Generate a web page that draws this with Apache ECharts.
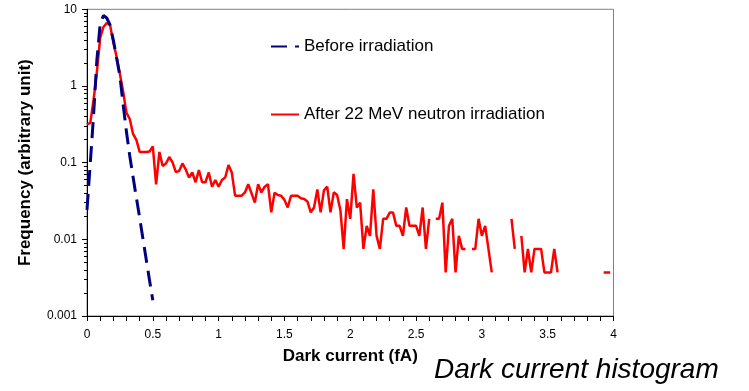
<!DOCTYPE html>
<html>
<head>
<meta charset="utf-8">
<script src="https://cdn.jsdelivr.net/npm/echarts@6/dist/echarts.min.js"></script>
<style>
html,body{margin:0;padding:0;background:#fff;}
#chart{width:749px;height:391px;}
</style>
</head>
<body>
<div id="chart"></div>
<script>
// Histogram bin width (fA); bin i is drawn at i * binWidth
var binWidth = 0.025;

// Before irradiation (bins 0..20)
var beforeValues = [0.0242, 0.099, 0.419, 2.18, 6.43, 8.3, 7.7, 6.24, 3.98, 2.32,
  1.35, 0.565, 0.251, 0.122, 0.0651, 0.035, 0.0191, 0.0102, 0.00547, 0.00293, 0.0016];

// After 22 MeV neutron irradiation (bins 0..159, null = empty bin)
var afterValues = [
  0.315, 0.33, 0.66, 1.52, 4.23, 5.88, 6.62, 6.24, 3.75, 2.39,
  1.43, 0.835, 0.445, 0.371, 0.237, 0.198, 0.138, 0.138, 0.138, 0.14,
  0.1625, 0.052, 0.138, 0.0905, 0.0976, 0.1187, 0.1007, 0.0752, 0.078, 0.0976,
  0.0815, 0.064, 0.0745, 0.0555, 0.08, 0.0555, 0.0555, 0.0745, 0.0486, 0.0595,
  0.0486, 0.0595, 0.064, 0.0933, 0.0745, 0.0371, 0.0371, 0.0371, 0.0409, 0.0523,
  0.0399, 0.0301, 0.0523, 0.0409, 0.0486, 0.0523, 0.0225, 0.0404, 0.0378, 0.0371,
  0.0327, 0.026, 0.037, 0.0371, 0.037, 0.0344, 0.0335, 0.0311, 0.0225, 0.026,
  0.0448, 0.0225, 0.0435, 0.0486, 0.0225, 0.041, 0.0378, 0.0242, 0.0075, 0.0334,
  0.0185, 0.0713, 0.026, 0.0301, 0.0075, 0.015, 0.0111, 0.0448, 0.0111, 0.0075,
  0.0185, 0.0185, 0.0223, 0.0223, 0.015, 0.015, 0.0111, 0.026, 0.015, 0.015,
  0.015, 0.0111, 0.026, 0.0075, 0.0185, null, 0.0185, 0.0185, 0.0301, 0.0037,
  0.015, 0.0185, 0.0037, 0.0111, 0.0075, 0.0075, null, 0.0075, 0.0075, 0.0185,
  0.0111, 0.015, 0.0075, 0.0037, null, null, null, null, null, 0.0185,
  0.0075, null, 0.0111, 0.0037, 0.0075, 0.0037, 0.0075, 0.0075, 0.0075, 0.0037,
  0.0037, 0.0037, 0.0075, 0.0037, null, null, null, null, null, null,
  null, null, null, null, null, null, null, 0.0037, 0.0037, 0.0037
];

var seriesNames = ['Before irradiation', 'After 22 MeV neutron irradiation'];
var yTickLabels = {0.001: '0.001', 0.01: '0.01', 0.1: '0.1', 1: '1', 10: '10'};
var yMinorTicks = [0.002,0.003,0.004,0.005,0.006,0.007,0.008,0.009,
  0.02,0.03,0.04,0.05,0.06,0.07,0.08,0.09,
  0.2,0.3,0.4,0.5,0.6,0.7,0.8,0.9,
  2,3,4,5,6,7,8,9];
var xAxisName = 'Dark current (fA)';
var yAxisName = 'Frequency (arbitrary unit)';
var captionText = 'Dark current histogram';

function toPairs(vals) {
  return vals.map(function (v, i) { return [+(i * binWidth).toFixed(4), v]; });
}

var FONT = "'Liberation Sans', Arial, sans-serif";
var chart = echarts.init(document.getElementById('chart'));
var legendCommon = {
  padding: 0, itemWidth: 28, itemHeight: 14, itemGap: 0,
  itemStyle: {opacity: 0, borderWidth: 0},
  textStyle: {fontFamily: FONT, fontSize: 17, color: '#000'}
};
chart.setOption({
  animation: false,
  backgroundColor: '#fff',
  textStyle: {fontFamily: FONT},
  title: {
    text: captionText,
    left: 434, top: 356,
    padding: 0,
    textStyle: {fontFamily: FONT, fontStyle: 'italic', fontWeight: 'normal', fontSize: 28, color: '#000'}
  },
  legend: [
    Object.assign({data: [seriesNames[0]], left: 270, top: 38}, legendCommon),
    Object.assign({data: [seriesNames[1]], left: 270, top: 106}, legendCommon)
  ],
  grid: {left: 87, right: 135.5, top: 9.3, bottom: 75, show: true, borderColor: '#808080', borderWidth: 1},
  xAxis: {
    type: 'value', min: 0, max: 4, interval: 0.5,
    name: xAxisName, nameLocation: 'middle', nameGap: 32,
    nameTextStyle: {fontFamily: FONT, fontWeight: 'bold', fontSize: 17, color: '#000'},
    axisLine: {show: true, lineStyle: {color: '#000', width: 1}},
    axisTick: {show: true, length: 5, lineStyle: {color: '#000'}},
    minorTick: {show: true, splitNumber: 5, length: 5, lineStyle: {color: '#000'}},
    axisLabel: {fontFamily: FONT, fontSize: 12, color: '#000', margin: 13},
    splitLine: {show: false}
  },
  yAxis: [{
    type: 'log', logBase: 10, min: 0.001, max: 10,
    name: yAxisName, nameLocation: 'middle', nameGap: 53, nameRotate: 90,
    nameTextStyle: {fontFamily: FONT, fontWeight: 'bold', fontSize: 17, color: '#000'},
    axisLine: {show: true, lineStyle: {color: '#000', width: 1}},
    axisTick: {show: true, length: 5, lineStyle: {color: '#000'}},
    axisLabel: {fontFamily: FONT, fontSize: 12, color: '#000', margin: 10,
      formatter: function (v) { var k = Object.keys(yTickLabels).filter(function (t) { return Math.abs(Math.log10(+t) - Math.log10(v)) < 1e-6; }); return k.length ? yTickLabels[k[0]] : ''; }},
    splitLine: {show: false}
  }, {
    type: 'log', logBase: 10, min: 0.001, max: 10, position: 'left',
    axisLine: {show: false},
    axisTick: {show: true, length: 3, customValues: yMinorTicks, lineStyle: {color: '#000'}},
    axisLabel: {show: false},
    splitLine: {show: false}
  }],
  series: [{
    name: seriesNames[1], type: 'line', data: toPairs(afterValues),
    showSymbol: false, symbol: 'none', connectNulls: false,
    lineStyle: {color: '#ff0000', width: 2.5}, itemStyle: {color: '#ff0000'}
  }, {
    name: seriesNames[0], type: 'line', data: toPairs(beforeValues),
    showSymbol: false, symbol: 'none',
    lineStyle: {color: '#000080', width: 3, type: [16, 8]}, itemStyle: {color: '#000080'}
  }]
});
</script>
</body>
</html>
